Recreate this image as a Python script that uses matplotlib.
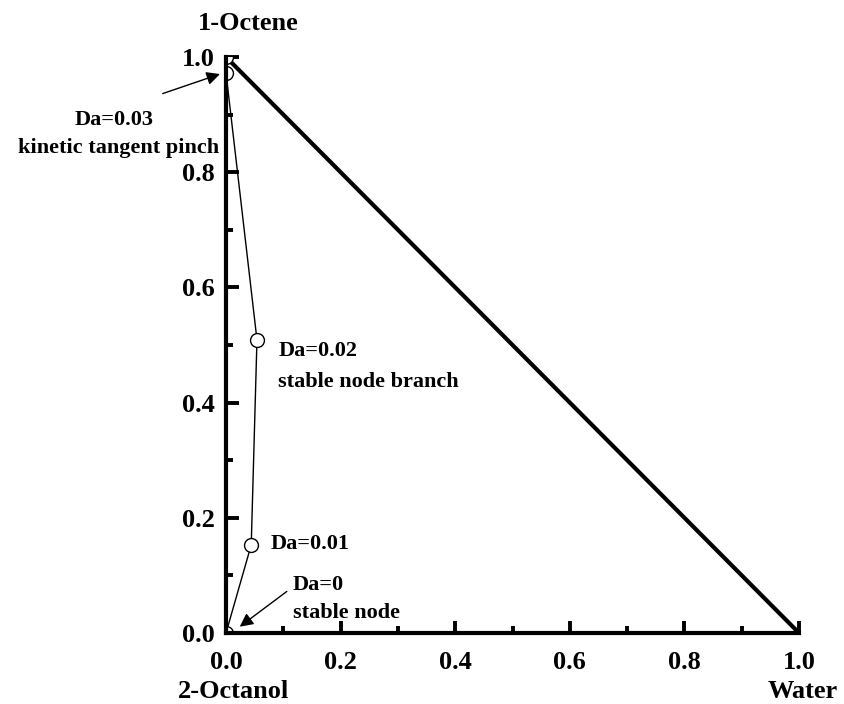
import numpy as np
import matplotlib.pyplot as plt
from matplotlib.ticker import MultipleLocator

# trajectory of reactive fixed points (x = water, y = 1-octene)
traj_x = [0.0, 0.044, 0.054, 0.0, 0.0]
traj_y = [0.0, 0.153, 0.509, 0.972, 1.0]
pt_x = [0.0, 0.044, 0.054, 0.0, 0.0]
pt_y = [0.0, 0.153, 0.509, 0.972, 1.0]

tri_x = [0.0, 1.0]
tri_y = [1.0, 0.0]

plt.rcParams['font.family'] = ['Liberation Serif', 'DejaVu Serif']
plt.rcParams['font.weight'] = 'bold'

fig = plt.figure(figsize=(8.44, 7.04), dpi=100)
ax = fig.add_axes([0.2678, 0.1009, 0.6789, 0.8181])

ax.plot(tri_x, tri_y, color='black', lw=3.0, solid_capstyle='butt')
ax.plot(traj_x, traj_y, color='black', lw=1.0)
ax.plot(pt_x, pt_y, 'o', ms=10, mfc='white', mec='black', mew=1.0, zorder=5)

ax.set_xlim(0, 1)
ax.set_ylim(0, 1)
for s in ['top', 'right']:
    ax.spines[s].set_visible(False)
for s in ['left', 'bottom']:
    ax.spines[s].set_linewidth(3.0)
    ax.spines[s].set_zorder(6)

ax.xaxis.set_major_locator(MultipleLocator(0.2))
ax.xaxis.set_minor_locator(MultipleLocator(0.1))
ax.yaxis.set_major_locator(MultipleLocator(0.2))
ax.yaxis.set_minor_locator(MultipleLocator(0.1))
ax.tick_params(which='major', direction='in', length=9, width=2.8, labelsize=19)
ax.tick_params(which='minor', direction='in', length=5, width=2.8)
ax.tick_params(axis='x', which='major', pad=13)
ax.tick_params(axis='y', which='major', pad=8)
ax.xaxis.set_major_formatter(lambda v, p: f"{v:.1f}")
ax.yaxis.set_major_formatter(lambda v, p: f"{v:.1f}")
for lab in ax.get_xticklabels() + ax.get_yticklabels():
    lab.set_fontweight('bold')

# vertex labels
fig.text(248 / 844, 1 - 24 / 704, '1-Octene', ha='center', va='center', fontsize=19, fontweight='bold')
fig.text(234 / 844, 1 - 691 / 704, '2-Octanol', ha='center', va='center', fontsize=19, fontweight='bold')
fig.text(803 / 844, 1 - 691 / 704, 'Water', ha='center', va='center', fontsize=19, fontweight='bold')

fs = 16
arrow = dict(arrowstyle='-|>', color='black', lw=1.0, mutation_scale=20)
ax.annotate('', xy=(-0.006, 0.972), xytext=(-0.115, 0.935), arrowprops=arrow, annotation_clip=False)
ax.text(-0.196, 0.891, 'Da=0.03', ha='center', va='center', fontsize=fs, fontweight='bold')
ax.text(-0.188, 0.842, 'kinetic tangent pinch', ha='center', va='center', fontsize=fs, fontweight='bold')

ax.text(0.091, 0.49, 'Da=0.02', ha='left', va='center', fontsize=fs, fontweight='bold')
ax.text(0.091, 0.436, 'stable node branch', ha='left', va='center', fontsize=fs, fontweight='bold')

ax.text(0.077, 0.155, 'Da=0.01', ha='left', va='center', fontsize=fs, fontweight='bold')

ax.annotate('', xy=(0.02, 0.008), xytext=(0.11, 0.075), arrowprops=arrow)
ax.text(0.117, 0.083, 'Da=0', ha='left', va='center', fontsize=fs, fontweight='bold')
ax.text(0.117, 0.035, 'stable node', ha='left', va='center', fontsize=fs, fontweight='bold')

fig.savefig('out.png', dpi=100)
